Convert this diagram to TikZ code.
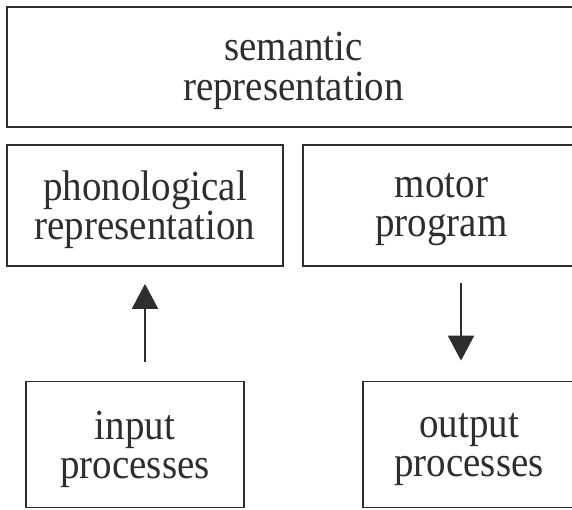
\documentclass[tikz,border=0pt]{standalone}
\usepackage{fontspec}
\setmainfont{Liberation Serif}
\usetikzlibrary{arrows.meta}
\definecolor{ink}{HTML}{2E2E2E}
\tikzset{
  box/.style={draw=ink, line width=1.7pt, rectangle, inner sep=0pt},
  txt/.style={align=center, inner sep=0pt, text=ink,
    font=\fontsize{39}{36}\selectfont, yscale=1.1, transform shape},
  flow/.style={draw=ink, line width=1.8pt,
    -{Triangle[length=25pt,width=26pt]}}
}
\begin{document}
\begin{tikzpicture}[x=1pt,y=1pt]
  \useasboundingbox (0,0) rectangle (572,509);
  % top level
  \node[box, minimum width=573pt, minimum height=120pt] (sem) at (293.5,442) {};
  \node[txt] (semt) at ([yshift=-4pt]sem.center) {semantic\\representation};
  % middle level
  \node[box, minimum width=276pt, minimum height=121pt] (phon) at (145,303.5) {};
  \node[txt] (phont) at ([yshift=-4pt]phon.center) {phonological\\representation};
  \node[box, minimum width=277pt, minimum height=121pt] (motor) at (441.5,303.5) {};
  \node[txt] (motort) at ([yshift=-4pt]motor.center) {motor\\program};
  % bottom level
  \node[box, minimum width=218pt, minimum height=126pt] (inp) at (135,64.5) {};
  \node[txt] (inpt) at ([yshift=-5pt]inp.center) {input\\processes};
  \node[box, minimum width=212pt, minimum height=126pt] (outp) at (469,64.5) {};
  \node[txt] (outpt) at ([yshift=-5pt]outp.center) {output\\processes};
  % connectors
  \draw[flow, shorten <=19pt, shorten >=17pt] (phon.south |- inp.north) -- (phon.south);
  \coordinate (dn) at ([xshift=-8pt]outp.north);
  \draw[flow, shorten <=16pt, shorten >=20pt] (dn |- motor.south) -- (dn);
\end{tikzpicture}
\end{document}
